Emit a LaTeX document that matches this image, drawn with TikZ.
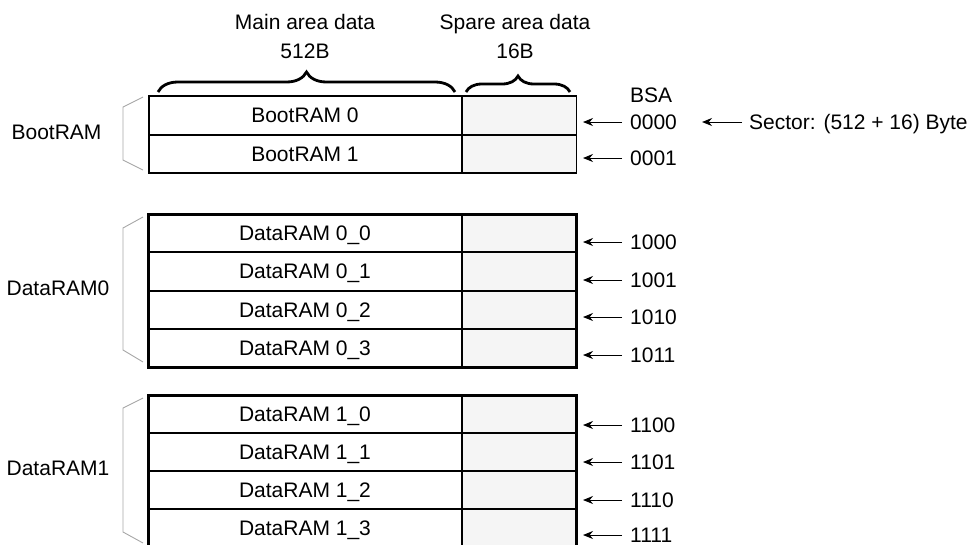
\documentclass[tikz,border=0pt]{standalone}
\usepackage{fontspec}
\setmainfont{Liberation Sans}
\usetikzlibrary{arrows.meta,decorations.pathreplacing}
\definecolor{sparefill}{HTML}{F5F5F5}
\definecolor{brk}{HTML}{A6A6A6}
\begin{document}
\begin{tikzpicture}[x=1pt,y=-1pt,
  txt/.style={font=\fontsize{21}{25}\selectfont, inner sep=0pt, text height=15pt, text depth=0pt},
  maincell/.style={txt, draw, line width=1pt, minimum width=312pt, minimum height=#1, anchor=north west},
  sparecell/.style={draw, line width=1pt, fill=sparefill, minimum width=114pt, minimum height=#1, inner sep=0pt, anchor=north west},
  addr/.style={txt, anchor=west, inner xsep=8pt},
  arr/.style={-{Stealth[length=10pt,width=8pt]}, line width=1pt},
  bracketline/.style={draw=brk, line width=0.9pt},
  bigbrace/.style={decorate, decoration={brace, amplitude=#1}, line width=2.8pt}
]
\useasboundingbox (0,0) rectangle (971,544);

% headers
\node[txt] (hmain) at (305,22) {Main area data};
\node[txt] (hmainb) at (305,51) {512B};
\node[txt] (hspare) at (515,22) {Spare area data};
\node[txt] (hspareb) at (515,51) {16B};
\draw[bigbrace=20pt] (158,92) -- (455,92);
\draw[bigbrace=16pt] (466,92) -- (570,92);

% BootRAM block
\node[maincell=37.5pt] (b0) at (148.5,96) {BootRAM 0};
\node[sparecell=37.5pt] (b0s) at (b0.north east) {};
\node[maincell=37.5pt] (b1) at (b0.south west) {BootRAM 1};
\node[sparecell=37.5pt] (b1s) at (b1.north east) {};
\draw[line width=1.4pt] (b0.north west) rectangle (b1s.south east);

% DataRAM0 block
\node[maincell=37.25pt] (d00) at (148.5,214) {DataRAM 0\_0};
\node[sparecell=37.25pt] (d00s) at (d00.north east) {};
\node[maincell=37.25pt] (d01) at (d00.south west) {DataRAM 0\_1};
\node[sparecell=37.25pt] (d01s) at (d01.north east) {};
\node[maincell=37.25pt] (d02) at (d01.south west) {DataRAM 0\_2};
\node[sparecell=37.25pt] (d02s) at (d02.north east) {};
\node[maincell=37.25pt] (d03) at (d02.south west) {DataRAM 0\_3};
\node[sparecell=37.25pt] (d03s) at (d03.north east) {};
\draw[line width=3pt] (d00.north west) rectangle (d03s.south east);

% DataRAM1 block
\node[maincell=37pt] (d10) at (148.5,395) {DataRAM 1\_0};
\node[sparecell=37pt] (d10s) at (d10.north east) {};
\node[maincell=37pt] (d11) at (d10.south west) {DataRAM 1\_1};
\node[sparecell=37pt] (d11s) at (d11.north east) {};
\node[maincell=37pt] (d12) at (d11.south west) {DataRAM 1\_2};
\node[sparecell=37pt] (d12s) at (d12.north east) {};
\node[maincell=37pt] (d13) at (d12.south west) {DataRAM 1\_3};
\node[sparecell=37pt] (d13s) at (d13.north east) {};
\draw[line width=3pt] (d10.north west) rectangle (d13s.south east);

% left labels and brackets
\node[txt] (lboot) at (56.5,132) {BootRAM};
\node[txt] (ld0) at (58,288) {DataRAM0};
\node[txt] (ld1) at (58,468) {DataRAM1};
\draw[bracketline] (143,97) -- (123,107) -- (123,160) -- (143,170);
\draw[bracketline] (143,217) -- (123,228) -- (123,350) -- (143,362);
\draw[bracketline] (143,398) -- (123,408) -- (123,532) -- (143,543);

% addresses
\node[addr] (bsa) at (622,95) {BSA};
\foreach \nm/\lab/\yy in {a0000/0000/122, a0001/0001/158,
  a1000/1000/242, a1001/1001/280, a1010/1010/317, a1011/1011/355,
  a1100/1100/425, a1101/1101/462, a1110/1110/500, a1111/1111/535}{
  \node[addr] (\nm) at (622,\yy) {\lab};
  \coordinate (t\nm) at (583,\yy);
  \draw[arr] (\nm.west) -- (t\nm);
}

% sector note
\node[addr, inner xsep=7pt] (sector) at (742,122) {Sector: (512 + 16) Byte};
\coordinate (tsector) at (702,122);
\draw[arr] (sector.west) -- (tsector);
\end{tikzpicture}
\end{document}
